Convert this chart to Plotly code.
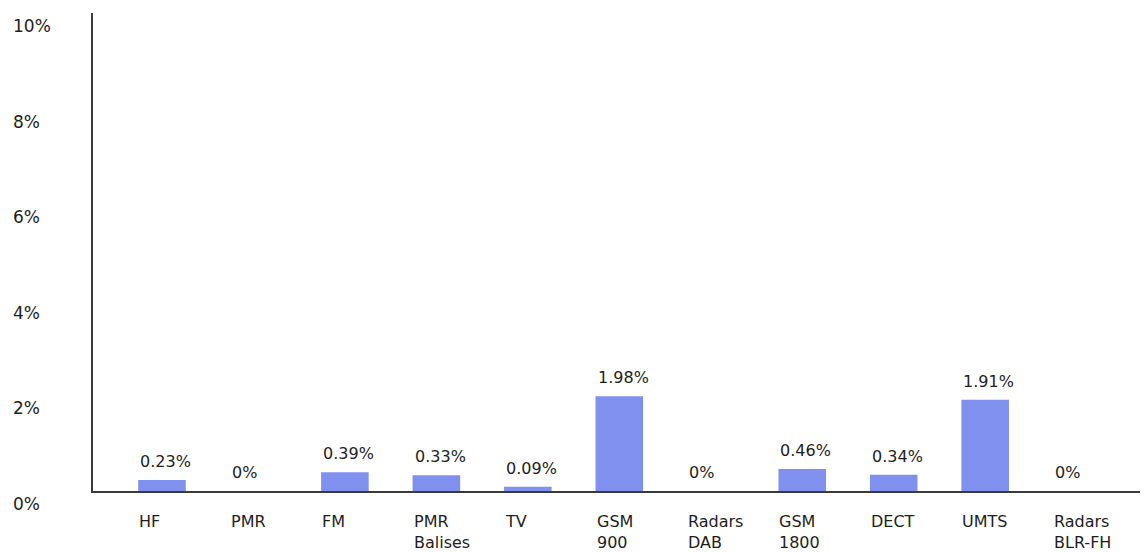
import plotly.graph_objects as go

categories = ["HF", "PMR", "FM", "PMR<br>Balises", "TV", "GSM<br>900", "Radars<br>DAB",
              "GSM<br>1800", "DECT", "UMTS", "Radars<br>BLR-FH"]
values = [0.23, 0, 0.39, 0.33, 0.09, 1.98, 0, 0.46, 0.34, 1.91, 0]
value_labels = ["0.23%", "0%", "0.39%", "0.33%", "0.09%", "1.98%", "0%", "0.46%", "0.34%", "1.91%", "0%"]
y_ticks = [0, 2, 4, 6, 8, 10]
y_tick_labels = ["0%", "2%", "4%", "6%", "8%", "10%"]

FONT = "DejaVu Sans"
TXT = "#1e1e1e"
BAR_W = 0.52

x = list(range(len(categories)))

fig = go.Figure()
fig.add_trace(go.Bar(x=x, y=values, width=BAR_W, marker=dict(color="#8090ee", line=dict(width=0)),
                     hoverinfo="skip"))

annotations = []
for i, (v, lab) in enumerate(zip(values, value_labels)):
    annotations.append(dict(x=i - BAR_W / 2, y=v, xref="x", yref="y", text=lab, showarrow=False,
                            xanchor="left", yanchor="bottom", yshift=7,
                            font=dict(family=FONT, size=16, color=TXT)))
for i, c in enumerate(categories):
    annotations.append(dict(x=i - BAR_W / 2, y=0, xref="x", yref="y", text=c, showarrow=False,
                            xanchor="left", yanchor="top", yshift=-20, align="left", borderpad=0,
                            font=dict(family=FONT, size=16, color=TXT)))
for t, lab in zip(y_ticks, y_tick_labels):
    annotations.append(dict(x=0, y=t, xref="paper", yref="y", text=lab, showarrow=False,
                            xanchor="left", yanchor="middle", xshift=-82, yshift=-13,
                            font=dict(family=FONT, size=17, color=TXT)))

# page body has an 8px default margin, so the figure is sized to fill the window from there
fig.update_layout(
    width=1140, height=544,
    margin=dict(l=85, r=0, t=5, b=61),
    paper_bgcolor="white", plot_bgcolor="white",
    showlegend=False,
    annotations=annotations,
    xaxis=dict(range=[-0.754, 10.78], showticklabels=False, showgrid=False, zeroline=False,
               showline=True, linecolor="#3a3a3a", linewidth=1.5, ticks=""),
    yaxis=dict(range=[0, 10], showticklabels=False, showgrid=False, zeroline=False,
               showline=True, linecolor="#3a3a3a", linewidth=1.5, ticks=""),
)

fig.write_html("out.html")
